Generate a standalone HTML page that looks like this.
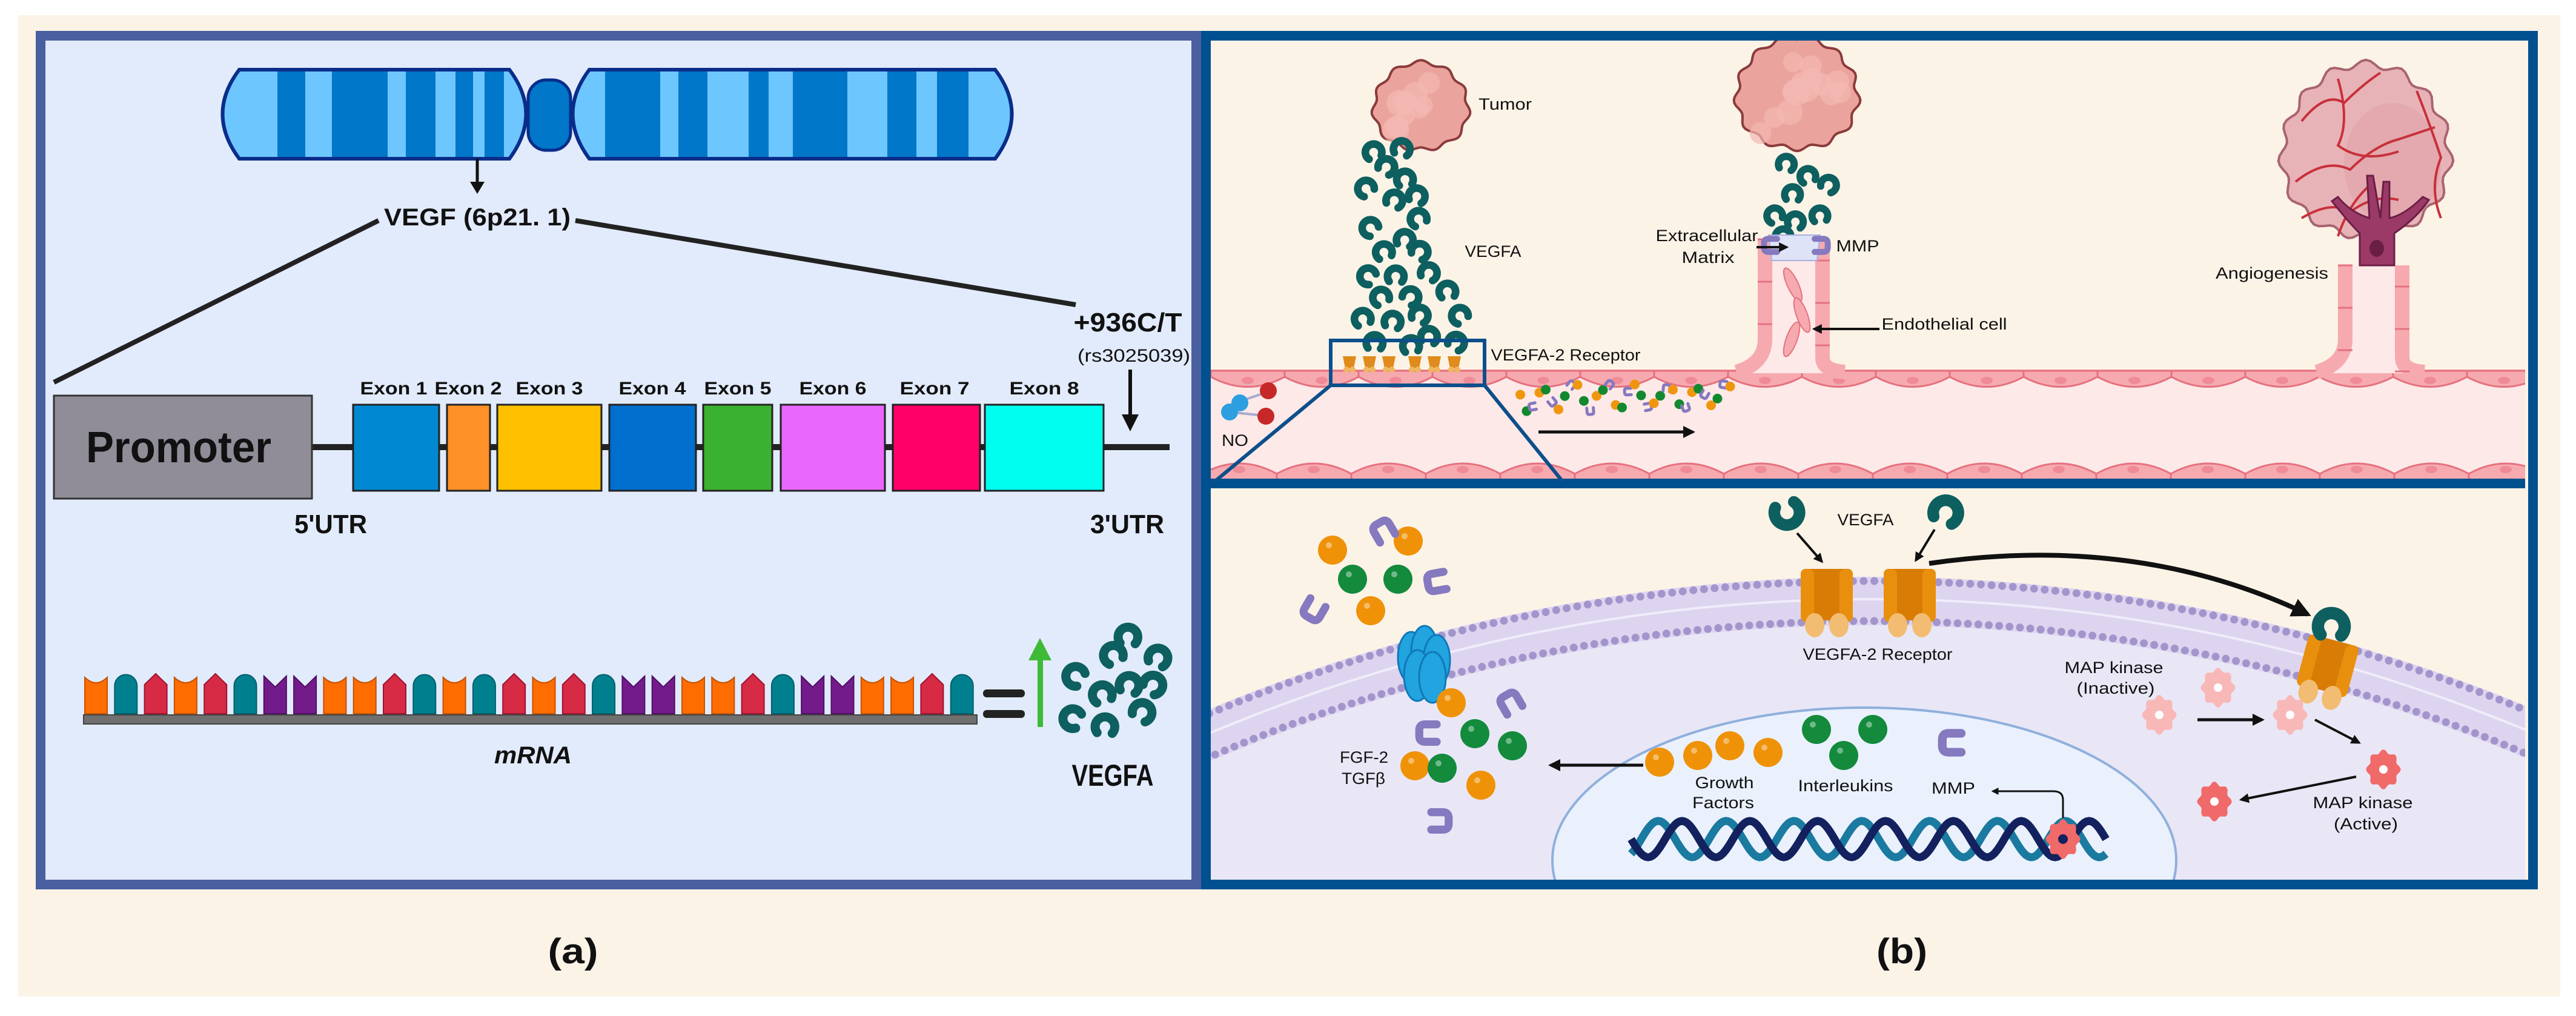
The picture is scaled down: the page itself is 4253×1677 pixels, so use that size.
<!DOCTYPE html>
<html><head><meta charset="utf-8"><style>
html,body{margin:0;padding:0;background:#fff;width:4253px;height:1677px;overflow:hidden;}
svg{display:block;position:absolute;left:0;top:0;overflow:hidden;}
text{font-family:"Liberation Sans",sans-serif;fill:#111;}
</style></head><body>
<svg id="s" xmlns="http://www.w3.org/2000/svg" width="4253" height="1677" viewBox="0 0 4253 1677">
<defs>
<clipPath id="cb"><rect x="1999" y="806" width="2170" height="646"/></clipPath>
<clipPath id="ct"><rect x="1999" y="67" width="2170" height="723"/></clipPath>
<marker id="ah" viewBox="0 0 10 10" refX="8" refY="5" markerWidth="4" markerHeight="4" orient="auto"><path d="M0,0 L10,5 L0,10 z" fill="#111"/></marker>
<symbol id="vg" viewBox="-25 -25 50 50" overflow="visible"><path d="M-11,9 A13 13 0 1 1 9,10" fill="none" stroke="#0e5f5f" stroke-width="12" stroke-linecap="round"/></symbol>
<symbol id="mp" viewBox="-25 -25 50 50" overflow="visible"><path d="M10,-12 L-6,-12 Q-14,-12 -14,-4 L-14,4 Q-14,12 -6,12 L10,12" fill="none" stroke="#8579bf" stroke-width="11" stroke-linecap="round"/></symbol>
</defs>
<rect x="30" y="25" width="4197" height="1620" fill="#fcf3e7"/>
<rect x="67" y="59" width="1908" height="1401" fill="#e2ebfb" stroke="#4a5fa0" stroke-width="16"/>
<g id="chrom">
<clipPath id="la"><path d="M395,115 L841,115 Q896,188 841,262 L395,262 Q340,188 395,115 Z"/></clipPath>
<clipPath id="ra"><path d="M973,115 L1643,115 Q1698,188 1643,262 L973,262 Q918,188 973,115 Z"/></clipPath>
<rect x="872" y="132" width="70" height="116" rx="30" fill="#0077c8" stroke="#0a2d8a" stroke-width="5"/>
<path d="M395,115 L841,115 Q896,188 841,262 L395,262 Q340,188 395,115 Z" fill="#6ec6ff"/>
<g clip-path="url(#la)" fill="#0077c8"><rect x="458" y="110" width="46" height="160"/><rect x="548" y="110" width="92" height="160"/><rect x="670" y="110" width="49" height="160"/><rect x="752" y="110" width="29" height="160"/><rect x="800" y="110" width="32" height="160"/></g>
<path d="M395,115 L841,115 Q896,188 841,262 L395,262 Q340,188 395,115 Z" fill="none" stroke="#0a2d8a" stroke-width="6"/>
<path d="M973,115 L1643,115 Q1698,188 1643,262 L973,262 Q918,188 973,115 Z" fill="#6ec6ff"/>
<g clip-path="url(#ra)" fill="#0077c8"><rect x="999" y="110" width="91" height="160"/><rect x="1120" y="110" width="48" height="160"/><rect x="1236" y="110" width="33" height="160"/><rect x="1309" y="110" width="90" height="160"/><rect x="1465" y="110" width="48" height="160"/><rect x="1547" y="110" width="52" height="160"/></g>
<path d="M973,115 L1643,115 Q1698,188 1643,262 L973,262 Q918,188 973,115 Z" fill="none" stroke="#0a2d8a" stroke-width="6"/>
</g>
<line x1="788" y1="262" x2="788" y2="306" stroke="#111" stroke-width="5"/>
<path d="M776,300 L800,300 L788,320 z" fill="#111"/>
<text x="788" y="372" font-size="40" font-weight="bold" text-anchor="middle" textLength="308" lengthAdjust="spacingAndGlyphs">VEGF (6p21. 1)</text>
<line x1="625" y1="364" x2="89" y2="631" stroke="#222" stroke-width="8"/>
<line x1="950" y1="364" x2="1776" y2="503" stroke="#222" stroke-width="8"/>
<text x="1862" y="547" font-size="44" font-weight="bold" text-anchor="middle" textLength="179" lengthAdjust="spacingAndGlyphs">+936C/T</text>
<text x="1872" y="597" font-size="30" text-anchor="middle" textLength="186" lengthAdjust="spacingAndGlyphs">(rs3025039)</text>
<line x1="1866" y1="610" x2="1866" y2="690" stroke="#111" stroke-width="6"/>
<path d="M1852,684 L1880,684 L1866,712 z" fill="#111"/>
<line x1="515" y1="738" x2="1931" y2="738" stroke="#222" stroke-width="10"/>
<rect x="89" y="653" width="426" height="170" fill="#918d98" stroke="#333" stroke-width="3"/>
<text x="295" y="763" font-size="72" font-weight="bold" text-anchor="middle" textLength="306" lengthAdjust="spacingAndGlyphs">Promoter</text>
<g stroke="#222" stroke-width="3">
<rect x="583" y="668" width="142" height="142" fill="#0089d2"/>
<rect x="738" y="668" width="71" height="142" fill="#fe9128"/>
<rect x="821" y="668" width="172" height="142" fill="#ffc000"/>
<rect x="1006" y="668" width="143" height="142" fill="#006fcd"/>
<rect x="1161" y="668" width="114" height="142" fill="#3bb131"/>
<rect x="1289" y="668" width="172" height="142" fill="#e967fb"/>
<rect x="1474" y="668" width="144" height="142" fill="#fe0068"/>
<rect x="1626" y="668" width="196" height="142" fill="#00fef0"/>
</g>
<g font-size="30" font-weight="bold" text-anchor="middle">
<text x="650" y="651" textLength="111" lengthAdjust="spacingAndGlyphs">Exon 1</text>
<text x="773" y="651" textLength="111" lengthAdjust="spacingAndGlyphs">Exon 2</text>
<text x="907" y="651" textLength="111" lengthAdjust="spacingAndGlyphs">Exon 3</text>
<text x="1077" y="651" textLength="111" lengthAdjust="spacingAndGlyphs">Exon 4</text>
<text x="1218" y="651" textLength="111" lengthAdjust="spacingAndGlyphs">Exon 5</text>
<text x="1375" y="651" textLength="111" lengthAdjust="spacingAndGlyphs">Exon 6</text>
<text x="1543" y="651" textLength="115" lengthAdjust="spacingAndGlyphs">Exon 7</text>
<text x="1724" y="651" textLength="115" lengthAdjust="spacingAndGlyphs">Exon 8</text>
</g>
<text x="546" y="880" font-size="44" font-weight="bold" text-anchor="middle" textLength="120" lengthAdjust="spacingAndGlyphs">5'UTR</text>
<text x="1861" y="880" font-size="44" font-weight="bold" text-anchor="middle" textLength="122" lengthAdjust="spacingAndGlyphs">3'UTR</text>
<g id="nuc"></g>
<rect x="138" y="1180" width="1475" height="15" fill="#6f6f6f" stroke="#444" stroke-width="2"/>
<text x="880" y="1260" font-size="40" font-weight="bold" font-style="italic" text-anchor="middle" textLength="128" lengthAdjust="spacingAndGlyphs">mRNA</text>
<rect x="1623" y="1138" width="69" height="13" rx="6" fill="#222"/>
<rect x="1623" y="1172" width="69" height="13" rx="6" fill="#222"/>
<rect x="1713" y="1085" width="9" height="115" fill="#3dbb37"/>
<path d="M1698,1090 L1736,1090 L1717,1053 z" fill="#3dbb37"/>
<g id="vg1"></g>
<text x="1837" y="1297" font-size="50" font-weight="bold" text-anchor="middle" textLength="135" lengthAdjust="spacingAndGlyphs">VEGFA</text>
<text x="946" y="1590" font-size="58" font-weight="bold" text-anchor="middle" textLength="83" lengthAdjust="spacingAndGlyphs">(a)</text>
<text x="3140" y="1590" font-size="58" font-weight="bold" text-anchor="middle" textLength="84" lengthAdjust="spacingAndGlyphs">(b)</text>

<rect x="1991" y="59" width="2191" height="1401" fill="#fcf3e7" stroke="#00508f" stroke-width="16"/>
<g clip-path="url(#ct)" id="top">
<rect x="1999" y="625" width="2170" height="160" fill="#fde9e8"/>
</g>
<g clip-path="url(#cb)" id="bot"></g>
<rect x="1999" y="790" width="2170" height="16" fill="#00508f"/>
<g font-size="27">
<text x="2485" y="181" text-anchor="middle" textLength="88" lengthAdjust="spacingAndGlyphs">Tumor</text>
<text x="2465" y="424" text-anchor="middle" textLength="93" lengthAdjust="spacingAndGlyphs">VEGFA</text>
<text x="2818" y="398" text-anchor="middle" textLength="169" lengthAdjust="spacingAndGlyphs">Extracellular</text>
<text x="2820" y="434" text-anchor="middle" textLength="87" lengthAdjust="spacingAndGlyphs">Matrix</text>
<text x="3067" y="415" text-anchor="middle" textLength="71" lengthAdjust="spacingAndGlyphs">MMP</text>
<text x="3210" y="544" text-anchor="middle" textLength="207" lengthAdjust="spacingAndGlyphs">Endothelial cell</text>
<text x="3751" y="460" text-anchor="middle" textLength="186" lengthAdjust="spacingAndGlyphs">Angiogenesis</text>
<text x="2585" y="595" text-anchor="middle" textLength="247" lengthAdjust="spacingAndGlyphs">VEGFA-2 Receptor</text>
<text x="2039" y="736" text-anchor="middle" textLength="44" lengthAdjust="spacingAndGlyphs">NO</text>
<text x="3080" y="867" text-anchor="middle" textLength="93" lengthAdjust="spacingAndGlyphs">VEGFA</text>
<text x="3100" y="1089" text-anchor="middle" textLength="247" lengthAdjust="spacingAndGlyphs">VEGFA-2 Receptor</text>
<text x="3490" y="1111" text-anchor="middle" textLength="163" lengthAdjust="spacingAndGlyphs">MAP kinase</text>
<text x="3493" y="1145" text-anchor="middle" textLength="129" lengthAdjust="spacingAndGlyphs">(Inactive)</text>
<text x="3901" y="1334" text-anchor="middle" textLength="165" lengthAdjust="spacingAndGlyphs">MAP kinase</text>
<text x="3906" y="1369" text-anchor="middle" textLength="106" lengthAdjust="spacingAndGlyphs">(Active)</text>
<text x="2252" y="1259" text-anchor="middle" textLength="80" lengthAdjust="spacingAndGlyphs">FGF-2</text>
<text x="2251" y="1294" text-anchor="middle" textLength="72" lengthAdjust="spacingAndGlyphs">TGFβ</text>
<text x="2847" y="1301" text-anchor="middle" textLength="97" lengthAdjust="spacingAndGlyphs">Growth</text>
<text x="2845" y="1334" text-anchor="middle" textLength="102" lengthAdjust="spacingAndGlyphs">Factors</text>
<text x="3047" y="1306" text-anchor="middle" textLength="157" lengthAdjust="spacingAndGlyphs">Interleukins</text>
<text x="3225" y="1310" text-anchor="middle" textLength="72" lengthAdjust="spacingAndGlyphs">MMP</text>
</g>
<g id="fg"></g>
</svg>
<script>
(function(){
var NS="http://www.w3.org/2000/svg";
function el(parent,tag,attrs){var e=document.createElementNS(NS,tag);for(var k in attrs)e.setAttribute(k,attrs[k]);(typeof parent==="string"?document.getElementById(parent):parent).appendChild(e);return e;}
var seed=7;function rnd(){seed=(seed*9301+49297)%233280;return seed/233280;}
var seq="OTRORTPPOORTOTRORTPPOORTPPOORT";
var col={O:["#ff6d00","#c55200"],T:["#00808f","#005e6a"],R:["#d62a45","#9e1530"],P:["#741b8c","#4f0f63"]};
for(var i=0;i<seq.length;i++){var x=140+i*49.3,w=37,c=seq[i],d,t=1118,b=1178;
 if(c=="O")d="M"+x+","+t+" Q"+(x+w/2)+","+(t+18)+" "+(x+w)+","+t+" L"+(x+w)+","+b+" L"+x+","+b+"z";
 else if(c=="T")d="M"+x+","+(t+14)+" A"+(w/2)+" "+(w/2)+" 0 0 1 "+(x+w)+","+(t+14)+" L"+(x+w)+","+b+" L"+x+","+b+"z";
 else if(c=="R")d="M"+x+","+(t+12)+" L"+(x+w/2)+","+(t-6)+" L"+(x+w)+","+(t+12)+" L"+(x+w)+","+b+" L"+x+","+b+"z";
 else d="M"+x+","+(t-2)+" L"+(x+w/2)+","+(t+16)+" L"+(x+w)+","+(t-2)+" L"+(x+w)+","+b+" L"+x+","+b+"z";
 el("nuc","path",{d:d,fill:col[c][0],stroke:col[c][1],"stroke-width":2});}
function vg(g,x,y,s,r){el(g,"use",{href:"#vg",x:-25,y:-25,width:50,height:50,transform:"translate("+x+","+y+") rotate("+r+") scale("+s+")"});}
[[1863,1050,0],[1838,1080,-30],[1913,1085,20],[1775,1115,-60],[1865,1130,10],[1820,1145,-20],[1905,1130,40],[1770,1185,-70],[1825,1198,0],[1887,1175,30]].forEach(function(p){vg("vg1",p[0],p[1],1.25,p[2]);});
var top=document.getElementById("top"),bot=document.getElementById("bot"),fg=document.getElementById("fg");
el(top,"rect",{x:1999,y:610,width:2170,height:14,fill:"#f6aab0"});
for(var x=1999;x<4170;x+=122){el(top,"path",{d:"M"+x+",612 L"+(x+122)+",612 L"+(x+122)+",622 Q"+(x+61)+",655 "+x+",622z",fill:"#f6aab0",stroke:"#e5727f","stroke-width":3});el(top,"ellipse",{cx:x+61,cy:628,rx:10,ry:6,fill:"#ee8b96"});}
for(var x=1985;x<4170;x+=123){el(top,"path",{d:"M"+x+",792 L"+(x+123)+",792 L"+(x+123)+",782 Q"+(x+61)+",748 "+x+",782z",fill:"#f6aab0",stroke:"#e5727f","stroke-width":3});el(top,"ellipse",{cx:x+61,cy:775,rx:10,ry:6,fill:"#ee8b96"});}
function sprout(xl,xr,ytop){el(top,"path",{d:"M"+(xl-40)+",616 Q"+xl+",600 "+xl+",560 L"+xl+","+ytop+" L"+xr+","+ytop+" L"+xr+",590 Q"+xr+",612 "+(xr+30)+",616z",fill:"#fde9e8"});
 el(top,"path",{d:"M"+(xl-45)+",614 Q"+(xl+2)+",600 "+(xl+2)+",560 L"+(xl+2)+","+ytop,fill:"none",stroke:"#f6aab0","stroke-width":24});
 el(top,"path",{d:"M"+(xr-2)+","+ytop+" L"+(xr-2)+",590 Q"+(xr-2)+",612 "+(xr+35)+",614",fill:"none",stroke:"#f6aab0","stroke-width":24});
 for(var y=ytop;y<600;y+=70){el(top,"line",{x1:xl-10,y1:y,x2:xl+14,y2:y,stroke:"#e5727f","stroke-width":3});el(top,"line",{x1:xr-14,y1:y+35,x2:xr+10,y2:y+35,stroke:"#e5727f","stroke-width":3});}}
sprout(2912,3011,395);sprout(3870,3968,438);
[[2960,470,-25],[2975,520,-20],[2958,560,20]].forEach(function(p){el(top,"ellipse",{cx:p[0],cy:p[1],rx:9,ry:30,transform:"rotate("+p[2]+" "+p[0]+" "+p[1]+")",fill:"#f6aab0",stroke:"#e5727f","stroke-width":2});});
function blob(g,cx,cy,rx,ry,n,fill,stroke){var d="";for(var i=0;i<=120;i++){var a=i/120*Math.PI*2,r=1+0.045*Math.sin(a*n)+0.02*Math.sin(a*3);d+=(i?"L":"M")+(cx+rx*r*Math.cos(a)).toFixed(1)+","+(cy+ry*r*Math.sin(a)).toFixed(1);}el(g,"path",{d:d+"z",fill:fill,stroke:stroke,"stroke-width":4});}
blob(top,2346,176,78,72,11,"#eba39d","#8b3b3b");
for(var k=0;k<10;k++)el(top,"circle",{cx:2300+rnd()*90,cy:130+rnd()*90,r:14+rnd()*8,fill:"#f3b8b2",opacity:0.7});
blob(top,2967,155,100,92,13,"#eba39d","#8b3b3b");
for(var k=0;k<14;k++)el(top,"circle",{cx:2895+rnd()*145,cy:90+rnd()*140,r:16+rnd()*8,fill:"#f3b8b2",opacity:0.7});
blob(top,3906,250,138,142,15,"#e8b3b7","#a86470");
el(top,"ellipse",{cx:3950,cy:270,rx:80,ry:100,fill:"#dea0a8",opacity:0.5});
var vd=["M3800,200 Q3840,150 3870,170 Q3900,140 3930,120","M3790,300 Q3840,260 3880,280 Q3920,240 3960,230 L4020,210","M3800,360 Q3850,330 3880,350 Q3920,320 3960,330","M3860,130 Q3880,200 3860,240 Q3900,270 3960,250","M3990,150 Q4010,200 4030,260 Q4010,310 4030,360","M3860,390 Q3880,330 3920,300"];
vd.forEach(function(d){el(top,"path",{d:d,fill:"none",stroke:"#c8303a","stroke-width":4});});
el(top,"path",{d:"M3896,438 L3953,438 L3953,385 Q3990,360 4010,330 L4000,325 Q3970,355 3945,360 L3945,300 L3935,300 L3930,360 L3918,290 L3908,290 L3912,360 Q3880,350 3860,325 L3850,332 Q3880,370 3896,385z",fill:"#9b3a67",stroke:"#6b1e45","stroke-width":3});
el(top,"ellipse",{cx:3924,cy:410,rx:12,ry:14,fill:"#6b1e45"});
var st=[[2268,305,-20],[2315,300,10],[2290,330,30],[2320,350,-10],[2340,378,15],[2255,365,-40],[2303,385,20],[2342,415,-30],[2262,430,-50],[2320,450,10],[2285,470,-20],[2345,470,30],[2258,510,-60],[2305,510,0],[2360,505,20],[2280,545,-30],[2330,545,40],[2390,535,-10],[2250,580,-20],[2300,585,10],[2345,575,20],[2410,575,-40],[2270,620,0],[2330,625,-10],[2405,620,30],[2360,610,10]];
st.forEach(function(p){vg(top,p[0],p[1]-55,1.05,p[2]);});
[[2950,270,10],[2985,290,-20],[3020,305,30],[2960,320,0],[2930,355,-30],[2965,365,10],[3005,355,-10],[2945,390,20]].forEach(function(p){vg(top,p[0],p[1],1.0,p[2]);});
el(top,"path",{d:"M2920,388 L3005,388 L3000,430 L2925,430z",fill:"#dfe3f8",stroke:"#a8b0e0","stroke-width":2});
el(top,"use",{href:"#mp",x:-25,y:-25,width:50,height:50,transform:"translate(2925,405) scale(0.9)"});
el(top,"use",{href:"#mp",x:-25,y:-25,width:50,height:50,transform:"translate(3005,405) rotate(180) scale(0.9)"});
[2217,2250,2282,2325,2357,2390].forEach(function(x){el(top,"path",{d:"M"+x+",588 L"+(x+22)+",588 L"+(x+18)+",608 L"+(x+4)+",608z",fill:"#e08b1c"});el(top,"circle",{cx:x+6,cy:610,r:5,fill:"#f0b660"});el(top,"circle",{cx:x+16,cy:610,r:5,fill:"#f0b660"});});
el(top,"line",{x1:2045,y1:663,x2:2090,y2:648,stroke:"#a8a8d0","stroke-width":4});el(top,"line",{x1:2030,y1:680,x2:2086,y2:686,stroke:"#a8a8d0","stroke-width":4});
el(top,"circle",{cx:2047,cy:665,r:14,fill:"#2d9fe0"});el(top,"circle",{cx:2030,cy:680,r:14,fill:"#2d9fe0"});
el(top,"circle",{cx:2094,cy:645,r:14,fill:"#c62828"});el(top,"circle",{cx:2090,cy:687,r:14,fill:"#c62828"});
for(var k=0;k<34;k++){var x=2510+k*10.5,y=655+Math.sin(k*1.3)*20+(rnd()-0.5)*16,t=k%3;
 if(t==0)el(top,"circle",{cx:x,cy:y,r:8,fill:"#f0960e"});else if(t==1)el(top,"circle",{cx:x,cy:y,r:8,fill:"#12892f"});else el(top,"use",{href:"#mp",x:-25,y:-25,width:50,height:50,transform:"translate("+x+","+y+") rotate("+(rnd()*360)+") scale(0.45)"});}
el(fg,"rect",{x:2197,y:562,width:254,height:74,fill:"none",stroke:"#0d4f8b","stroke-width":6});
el(fg,"line",{x1:2197,y1:636,x2:2004,y2:796,stroke:"#0d4f8b","stroke-width":6});
el(fg,"line",{x1:2451,y1:636,x2:2581,y2:796,stroke:"#0d4f8b","stroke-width":6});
function arr(x1,y1,x2,y2,w){el(fg,"line",{x1:x1,y1:y1,x2:x2,y2:y2,stroke:"#111","stroke-width":w||5,"marker-end":"url(#ah)"});}
arr(2540,713,2795,713,5);arr(2900,408,2950,408,4);arr(3103,543,2995,543,4);
// membrane as bounded arcs
var cx=3090,cy=3799;
function arcPath(R){var d="";for(var a=-0.43;a<=0.4301;a+=0.01){var x=cx+R*Math.sin(a),y=cy-R*Math.cos(a);d+=(d?"L":"M")+x.toFixed(1)+","+y.toFixed(1);}return d;}
function band(R){var x0=cx+R*Math.sin(-0.43),x1=cx+R*Math.sin(0.43);return arcPath(R)+"L"+x1.toFixed(1)+",1455 L"+x0.toFixed(1)+",1455z";}
el(bot,"path",{d:band(2847),fill:"#ddd5ef"});
el(bot,"path",{d:arcPath(2810),fill:"none",stroke:"#f1ecfa","stroke-width":4});
el(bot,"path",{d:band(2767),fill:"#e9e7f6"});
el(bot,"ellipse",{cx:3078,cy:1420,rx:515,ry:252,fill:"#eaf1fd",stroke:"#8fb0dc","stroke-width":4});
[2840,2774].forEach(function(R){for(var a=-0.42;a<0.42;a+=0.0062){var x=cx+R*Math.sin(a),y=cy-R*Math.cos(a);if(x<1990||x>4175||y>1460)continue;el(bot,"circle",{cx:x.toFixed(1),cy:y.toFixed(1),r:6.5,fill:"#a395cc"});}});
[[2330,1085],[2352,1075],[2372,1090],[2340,1115],[2365,1118]].forEach(function(p){el(bot,"ellipse",{cx:p[0],cy:p[1],rx:22,ry:42,fill:"#21a4e0",stroke:"#1178b8","stroke-width":3});});
function rec(g,x,y,rot){var G=el(g,"g",{transform:"translate("+x+","+y+") rotate("+rot+")"});
 el(G,"rect",{x:-43,y:-55,width:86,height:85,rx:8,fill:"#d97c05"});
 el(G,"rect",{x:-43,y:-55,width:22,height:88,rx:10,fill:"#e8900e"});el(G,"rect",{x:21,y:-55,width:22,height:88,rx:10,fill:"#e8900e"});
 el(G,"ellipse",{cx:-20,cy:38,rx:16,ry:20,fill:"#f2bd72"});el(G,"ellipse",{cx:20,cy:38,rx:16,ry:20,fill:"#f2bd72"});}
rec(bot,3016,994,0);rec(bot,3153,994,0);rec(bot,3840,1110,15);
vg(bot,2950,848,1.6,160);vg(bot,3214,845,1.6,20);vg(bot,3850,1032,1.7,0);
function ball(x,y,c){el(bot,"circle",{cx:x,cy:y,r:24,fill:c});el(bot,"circle",{cx:x-6,cy:y-8,r:5,fill:"#fff",opacity:0.4});}
var O="#ef9208",Gn="#138a3c";
ball(2200,908,O);ball(2325,893,O);ball(2233,956,Gn);ball(2308,956,Gn);ball(2263,1008,O);
ball(2396,1160,O);ball(2435,1211,Gn);ball(2497,1231,Gn);ball(2336,1264,O);ball(2381,1268,Gn);ball(2445,1296,O);
ball(2740,1258,O);ball(2803,1247,O);ball(2856,1231,O);ball(2919,1242,O);
ball(2999,1204,Gn);ball(3092,1204,Gn);ball(3044,1247,Gn);
function mpu(x,y,r,s){el(bot,"use",{href:"#mp",x:-25,y:-25,width:50,height:50,transform:"translate("+x+","+y+") rotate("+r+") scale("+s+")"});}
mpu(2285,878,60,1.2);mpu(2374,960,-10,1.2);mpu(2170,1005,-60,1.2);mpu(2360,1210,0,1.2);mpu(2495,1162,60,1.2);mpu(2375,1355,180,1.2);mpu(3225,1226,0,1.3);
function fl(x,y,c){var d="";for(var i=0;i<=72;i++){var a=i/72*Math.PI*2,r=26*(1+0.1*Math.cos(a*8));d+=(i?"L":"M")+(x+r*Math.cos(a)).toFixed(1)+","+(y+r*Math.sin(a)*1.15).toFixed(1);}el(bot,"path",{d:d+"z",fill:c});el(bot,"circle",{cx:x,cy:y,r:7,fill:"#fff"});}
fl(3662,1135,"#f9b8b8");fl(3565,1180,"#f9b8b8");fl(3781,1180,"#f9b8b8");fl(3935,1270,"#f06a6a");fl(3656,1323,"#f06a6a");
var d1="",d2="";for(var x=2693;x<=3480;x+=4){var p=(x-2693)/112*Math.PI*2;d1+=(x==2693?"M":"L")+x+","+(1385+30*Math.sin(p)).toFixed(1);d2+=(x==2693?"M":"L")+x+","+(1385+30*Math.sin(p+2.2)).toFixed(1);}
el(bot,"path",{d:d2,fill:"none",stroke:"#1a7aa0","stroke-width":13});el(bot,"path",{d:d1,fill:"none",stroke:"#13215e","stroke-width":13});
fl(3406,1385,"#f06a6a");el(bot,"circle",{cx:3406,cy:1385,r:8,fill:"#13215e"});
function arrb(x1,y1,x2,y2,w){el(bot,"line",{x1:x1,y1:y1,x2:x2,y2:y2,stroke:"#111","stroke-width":w||4,"marker-end":"url(#ah)"});}
arrb(2967,880,3008,927);arrb(3194,874,3163,925);
el(bot,"path",{d:"M3185,930 Q3530,880 3810,1014",fill:"none",stroke:"#111","stroke-width":8,"marker-end":"url(#ah)"});
arrb(2713,1263,2560,1263,5);arrb(3628,1188,3735,1188,5);arrb(3822,1188,3895,1226,4);arrb(3890,1282,3700,1320,4);
el(bot,"path",{d:"M3406,1350 L3406,1320 Q3406,1306 3390,1306 L3290,1306",fill:"none",stroke:"#111","stroke-width":3,"marker-end":"url(#ah)"});
})();
</script>
</body></html>
